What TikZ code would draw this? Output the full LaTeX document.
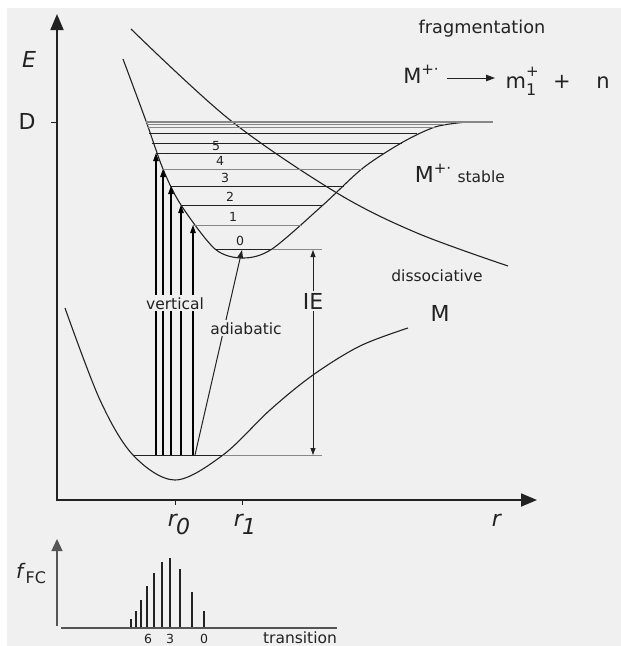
\documentclass[tikz,border=0pt]{standalone}
\usepackage{fontspec}
\setmainfont{DejaVu Sans}
\usepackage{tikz}
\usetikzlibrary{arrows.meta,calc,positioning}
\definecolor{paper}{RGB}{240,240,240}
\definecolor{ink}{RGB}{34,34,34}
\definecolor{softgray}{RGB}{135,135,135}
\definecolor{axisgray}{RGB}{85,85,85}
\newcommand{\bigsize}{\fontsize{22}{24}\selectfont}
\newcommand{\midsize}{\fontsize{15.5}{18}\selectfont}
\newcommand{\smallsize}{\fontsize{12.5}{14}\selectfont}
\newcommand{\mion}{M\raisebox{9pt}{\fontsize{15}{15}\selectfont +·}}

\begin{document}
\begin{tikzpicture}[x=1pt, y=-1pt,
  every node/.style={text=ink, inner sep=1pt},
  curve/.style={ink, line width=1.1pt},
  lvl/.style={ink, line width=1pt},
  lvlgray/.style={softgray, line width=1pt},
  axis/.style={ink, line width=1.8pt, -{Triangle[length=16pt,width=13pt]}},
  haxis/.style={axisgray, line width=1.3pt, -{Triangle[length=12pt,width=11pt]}},
  up/.style={black, line width=1.2pt, -{Triangle[length=8pt,width=5.5pt]}},
  ie/.style={ink, line width=0.8pt, {Triangle[length=7pt,width=5pt]}-{Triangle[length=7pt,width=5pt]}},
  bar/.style={ink, line width=1.3pt},
  lbl/.style={fill=paper, inner sep=2pt}
]
\fill[white] (0,0) rectangle (621,646);
\fill[paper] (7,8) rectangle (621,646);
\useasboundingbox (0,0) rectangle (621,646);

% axes
\coordinate (orig) at (57,500);
\coordinate (etip) at (57,14);
\coordinate (rtip) at (537,500);
\draw[axis] (orig) -- (etip);
\draw[axis] ([xshift=-1pt]orig) -- (rtip);
\draw[ink, line width=1pt] (51,122) -- (57,122);
\draw[ink, line width=1pt] (175,500) -- (175,505);
\draw[ink, line width=1pt] (242,500) -- (242,505);
\node[anchor=base] (elbl) at (29,67) {\bigsize\textit{E}};
\node[anchor=base] (dlbl) at (27,129) {\bigsize D};
\node[anchor=base] (rlbl) at (497,526) {\bigsize\textit{r}};
\node[anchor=base] (r0lbl) at (179,526) {\bigsize\textit{r}\kern-2pt\raisebox{-8pt}{\textit{0}}};
\node[anchor=base] (r1lbl) at (245,526) {\bigsize\textit{r}\kern-2pt\raisebox{-8pt}{\textit{1}}};

% potential curves
\draw[curve] plot[smooth, tension=0.55] coordinates {(65,308) (100,400) (133,455) (175,480) (223,455) (270,410) (313,375) (360,346) (408,328)};
\draw[curve] plot[smooth, tension=0.55] coordinates {(131,29) (230,120) (337,193) (417,233) (508,266)};
\draw[curve] plot[smooth, tension=0.5] coordinates {(123,59) (146,121) (163,169) (181,205) (215,249) (243,258) (272,249) (323,205) (363,168) (403,142) (435,127) (462,122.5)};

% vibrational levels
\foreach \y/\xl/\xr/\s in {249/215/272/lvl, 225/193/302/lvlgray, 205/181/323/lvl, 186/171/344/lvl, 169/163/363/lvlgray, 153/156/383/lvl, 143/152/402/lvl, 133/149/417/lvl, 127/147.5/435/lvlgray, 124.5/147/445/lvlgray}
  \draw[\s] (\xl,\y) -- (\xr,\y);
\draw[softgray, line width=1.6pt] (146,122) -- (493,122);
\draw[lvlgray] (272,249) -- (322,249);
\draw[lvl] (133,455) -- (223,455);
\draw[lvlgray] (223,455) -- (322,455);
\foreach \v/\x/\y in {0/240/241, 1/233/217, 2/230/197, 3/225/178, 4/220/161, 5/216/146}
  \node (num\v) at (\x,\y) {\smallsize\v};

% transitions
\foreach \v/\x/\y in {1/193/225, 2/181/205, 3/171/186, 4/163/169, 5/156/153} {
  \coordinate (g\v) at (\x,455);
  \coordinate (i\v) at (\x,\y);
}
\foreach \v in {1,...,5}
  \draw[up] (g\v) -- (i\v);
\coordinate (g0) at (195,455);
\coordinate (i0) at (242,250);
\draw[up, ink, line width=1pt] (g0) -- (i0);
\coordinate (ieT) at (313,250);
\coordinate (ieB) at (313,455);
\draw[ie] (ieT) -- (ieB);
\node[lbl, anchor=base] (vert) at (175,309) {\midsize vertical};
\node[lbl, anchor=base] (adia) at (246,334) {\midsize adiabatic};
\node[lbl, anchor=base] (ielbl) at (313,309) {\bigsize IE};

% curve labels
\node[anchor=base] (mlbl) at (440,321) {\bigsize M};
\node[anchor=base] (disso) at (437,281) {\midsize dissociative};
\node[anchor=base] (mstab) at (433,182) {\bigsize\mion};
\node[right=4pt of mstab.base east, anchor=base west] (stab) {\midsize stable};

% fragmentation
\node[anchor=base] (frag) at (482,33) {\fontsize{17.7}{20}\selectfont fragmentation};
\node[anchor=base] (mfrag) at (421,83) {\fontsize{21}{24}\selectfont\mion};
\node[anchor=base] (m1frag) at (521,88) {\fontsize{21}{24}\selectfont m\rlap{\raisebox{12pt}{\fontsize{15}{15}\selectfont +}}\raisebox{-7pt}{\fontsize{16}{16}\selectfont 1}};
\node[anchor=base] (plus) at (562,88) {\fontsize{21}{24}\selectfont +};
\node[anchor=base] (nfrag) at (603,88) {\fontsize{21}{24}\selectfont n};
\draw[ink, line width=1pt, -{Triangle[length=9pt,width=6.5pt]}] (447,78) -- (495,78);

% Franck-Condon factors
\coordinate (horig) at (57,626);
\coordinate (htip) at (57,539);
\draw[haxis] (horig) -- (htip);
\draw[axisgray, line width=1.3pt] (61,628) -- (337,628);
\foreach \x/\t in {131/619, 136/611, 141/600, 147/586, 154/573, 162/562, 170/558, 180/569, 192/592, 204/611}
  \draw[bar] (\x,627) -- (\x,\t);
\node[anchor=base] (fc) at (31,578) {\fontsize{20}{22}\selectfont\textit{f}\raisebox{-5pt}{\fontsize{16}{16}\selectfont FC}};
\foreach \v/\x in {6/148, 3/170, 0/204}
  \node[anchor=base] (t\v) at (\x,643) {\smallsize\v};
\node[anchor=base] (trans) at (300,643) {\midsize transition};
\end{tikzpicture}
\end{document}
